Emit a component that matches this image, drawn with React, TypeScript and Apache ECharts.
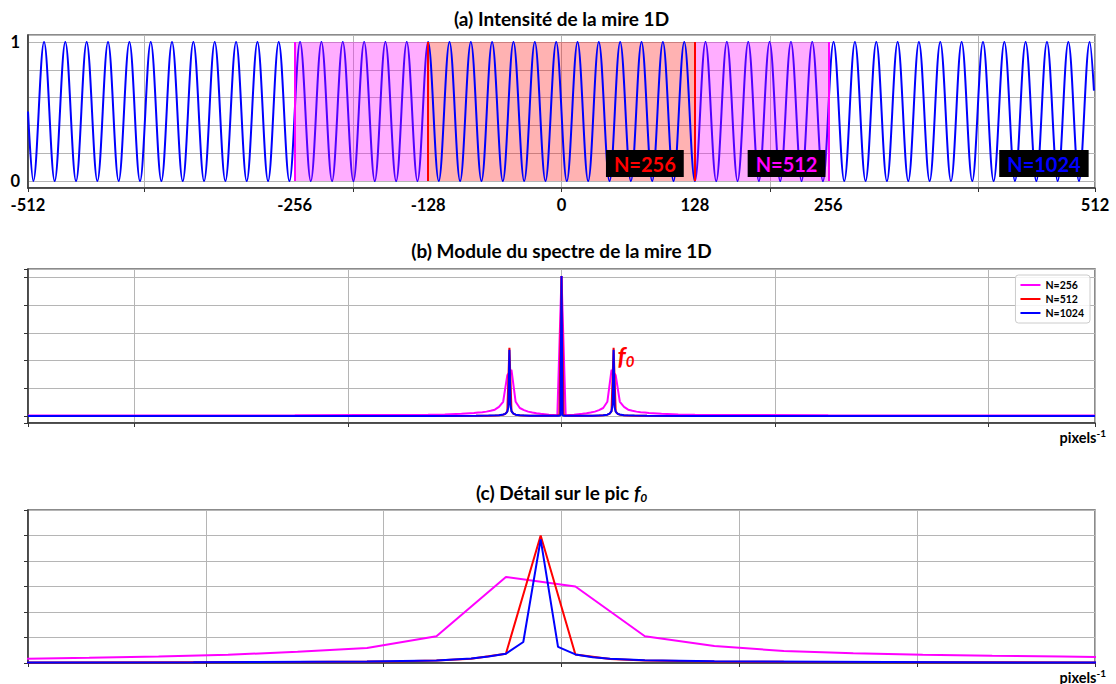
import React, { useEffect, useRef } from "react";
import * as echarts from "echarts";

// ---------- Panel (a): 1-D test pattern (pixel positions of maxima / minima) ----------
const waveStart: [number, number] = [-512, 0.5];
const waveEnd: [number, number] = [511, 0.65];
const waveTroughs = [
  -506.9, -486.4, -465.9, -445.4, -425.0, -404.5, -384.0, -363.5, -343.0, -322.6,
  -302.1, -281.6, -261.1, -240.6, -220.2, -199.7, -179.2, -158.7, -138.2, -117.8,
  -97.3, -76.8, -56.3, -35.8, -15.4, 5.1, 25.6, 46.1, 66.6, 87.0,
  107.5, 128.0, 148.5, 169.0, 189.4, 209.9, 230.4, 250.9, 271.4, 291.8,
  312.3, 332.8, 353.3, 373.8, 394.2, 414.7, 435.2, 455.7, 476.2, 496.6,
];
const wavePeaks = [
  -496.6, -476.2, -455.7, -435.2, -414.7, -394.2, -373.8, -353.3, -332.8, -312.3,
  -291.8, -271.4, -250.9, -230.4, -209.9, -189.4, -169.0, -148.5, -128.0, -107.5,
  -87.0, -66.6, -46.1, -25.6, -5.1, 15.4, 35.8, 56.3, 76.8, 97.3,
  117.8, 138.2, 158.7, 179.2, 199.7, 220.2, 240.6, 261.1, 281.6, 302.1,
  322.6, 343.0, 363.5, 384.0, 404.5, 425.0, 445.4, 465.9, 486.4, 506.9,
];
const xLabelsA = [-512, -256, -128, 0, 128, 256, 512];
const yLabelsA = [0, 1];
const windowN512 = [-256, 256];
const windowN256 = [-128, 128];
const annotTexts = ["N=256", "N=512", "N=1024"];
const annotX = [80, 216, 463];
const annotY = 0.126;

// ---------- Panels (b) and (c): spectrum modulus (positive frequencies, bins k/N) ----------
const bins256 = [0, 1, 2, 3, 4, 5, 6, 7, 8, 9, 10, 11, 12, 13, 14, 15, 16, 17, 18, 19, 20, 21, 24, 28, 32, 48, 64, 96, 128];
const spec256 = [
  1.01, 0.006, 0.008, 0.01, 0.013, 0.016, 0.02, 0.025, 0.032, 0.043, 0.058, 0.103, 0.332, 0.295,
  0.103, 0.066, 0.046, 0.038, 0.032, 0.028, 0.025, 0.022, 0.017, 0.012, 0.01, 0.007, 0.005, 0.004, 0.004,
];
const bins512 = [0, 1, 2, 5, 10, 15, 18, 20, 21, 22, 23, 24, 25, 26, 27, 28, 29, 30, 32, 36, 41, 64, 128, 256];
const spec512 = [
  1.01, 0.008, 0.004, 0.002, 0.002, 0.003, 0.004, 0.0055, 0.007, 0.01, 0.016, 0.036, 0.492, 0.033,
  0.015, 0.01, 0.0075, 0.006, 0.0045, 0.003, 0.002, 0.001, 0.001, 0.001,
];
const bins1024 = [0, 1, 2, 5, 20, 30, 40, 44, 46, 47, 48, 49, 50, 51, 52, 53, 54, 56, 60, 70, 82, 128, 256, 512];
const spec1024 = [
  1.01, 0.006, 0.003, 0.0015, 0.0015, 0.0025, 0.006, 0.01, 0.017, 0.025, 0.036, 0.081, 0.477, 0.062,
  0.033, 0.022, 0.016, 0.011, 0.0065, 0.0035, 0.0015, 0.001, 0.001, 0.001,
];
const f0Label = { x: 0.0605, y: 0.44 };
const detailRange = [0.02, 0.08];
const detailYMax = 0.59;

const FONT = 'Lato, "DejaVu Sans", sans-serif';

function buildWave(): [number, number][] {
  const pts: [number, number][] = [waveStart];
  for (let i = 0; i < waveTroughs.length; i++) {
    pts.push([waveTroughs[i], 0]);
    pts.push([wavePeaks[i], 1]);
  }
  pts.push(waveEnd);
  return pts;
}

function buildSpectrum(bins: number[], vals: number[], n: number): [number, number][] {
  const pos: [number, number][] = bins.map((k, i) => [k / n, vals[i]]);
  const neg: [number, number][] = pos
    .filter((p) => p[0] > 0)
    .map((p) => [-p[0], p[1]] as [number, number])
    .reverse();
  return [...neg, ...pos];
}

export default function App() {
  const ref = useRef<HTMLDivElement>(null);
  useEffect(() => {
    if (!ref.current) return;
    const chart = echarts.init(ref.current, undefined, { renderer: "svg" });
    const gridCommon = {
      left: 28,
      width: 1067,
      show: true,
      borderColor: "#666",
      borderWidth: 1.5,
      backgroundColor: "transparent",
    };
    const split = { show: true, lineStyle: { color: "#b5b5b5", width: 1 } };
    const axisLine = { show: true, onZero: false, lineStyle: { color: "#333", width: 1.5 } };
    const tick = { show: true, length: 4, lineStyle: { color: "#333", width: 1 } };
    const specs = [
      { name: "N=256", data: buildSpectrum(bins256, spec256, 256), color: "#ff00ff" },
      { name: "N=512", data: buildSpectrum(bins512, spec512, 512), color: "#ff0000" },
      { name: "N=1024", data: buildSpectrum(bins1024, spec1024, 1024), color: "#0000ff" },
    ];
    const specSeries = (axis: number) =>
      specs.map((s) => ({
        type: "line",
        name: s.name,
        xAxisIndex: axis,
        yAxisIndex: axis,
        data: s.data,
        showSymbol: false,
        symbol: "none",
        lineStyle: { color: s.color, width: 2 },
        itemStyle: { color: s.color },
        z: 2,
      }));
    const annotColors = ["#ff0000", "#ff00ff", "#0000ff"];
    const tickFont = { fontFamily: FONT, fontWeight: "bold", fontSize: 16.5, color: "#000", margin: 8 };

    const option: any = {
      animation: false,
      backgroundColor: "#fff",
      textStyle: { fontFamily: FONT },
      grid: [
        { ...gridCommon, top: 35, height: 153 },
        { ...gridCommon, top: 269, height: 154 },
        { ...gridCommon, top: 510, height: 153 },
      ],
      xAxis: [
        {
          gridIndex: 0,
          type: "value",
          min: -512,
          max: 512,
          axisLine,
          axisTick: tick,
          splitLine: split,
          axisLabel: { customValues: xLabelsA, ...tickFont },
        },
        {
          gridIndex: 1,
          type: "value",
          min: -0.5,
          max: 0.5,
          axisLine,
          axisTick: tick,
          splitLine: split,
          axisLabel: { show: false },
        },
        {
          gridIndex: 2,
          type: "value",
          min: detailRange[0],
          max: detailRange[1],
          interval: 0.01,
          axisLine,
          axisTick: tick,
          splitLine: split,
          axisLabel: { show: false },
        },
      ],
      yAxis: [
        {
          gridIndex: 0,
          type: "value",
          min: -0.05,
          max: 1.05,
          axisLine,
          axisTick: { show: false },
          splitLine: split,
          axisLabel: { customValues: yLabelsA, ...tickFont },
        },
        {
          gridIndex: 1,
          type: "value",
          min: -0.05,
          max: 1.06,
          axisLine,
          axisTick: tick,
          splitLine: split,
          axisLabel: { show: false },
        },
        {
          gridIndex: 2,
          type: "value",
          min: 0,
          max: detailYMax,
          interval: detailYMax / 6,
          axisLine,
          axisTick: tick,
          splitLine: split,
          axisLabel: { show: false },
        },
      ],
      legend: {
        data: annotTexts,
        selectedMode: false,
        orient: "vertical",
        right: 26,
        top: 275,
        icon: "rect",
        itemWidth: 20,
        itemHeight: 2,
        itemGap: 2,
        padding: [4, 6, 4, 5],
        backgroundColor: "rgba(255,255,255,0.85)",
        borderColor: "#ccc",
        borderWidth: 1,
        borderRadius: 3,
        textStyle: { fontFamily: FONT, fontWeight: "bold", fontSize: 10.5, color: "#000", lineHeight: 12 },
      },
      series: [
        {
          type: "line",
          name: "mire",
          xAxisIndex: 0,
          yAxisIndex: 0,
          data: buildWave(),
          smooth: 0.36,
          showSymbol: false,
          symbol: "none",
          lineStyle: { color: "#0000ff", width: 2 },
          z: 2,
        },
        {
          type: "line",
          name: "fenetre256",
          xAxisIndex: 0,
          yAxisIndex: 0,
          data: windowN256.map((x) => [x, 0]),
          symbol: "none",
          lineStyle: { opacity: 0, width: 0 },
          markArea: {
            silent: true,
            z: 1,
            itemStyle: { color: "rgba(255,0,0,0.3)" },
            data: [[{ coord: [windowN256[0], 0] }, { coord: [windowN256[1], 1] }]],
          },
          markLine: {
            silent: true,
            symbol: "none",
            z: 5,
            label: { show: false },
            lineStyle: { color: "#ff0000", width: 2, type: "solid" },
            data: windowN256.map((x) => [{ coord: [x, 0] }, { coord: [x, 1] }]),
          },
        },
        {
          type: "line",
          name: "fenetre512",
          xAxisIndex: 0,
          yAxisIndex: 0,
          data: windowN512.map((x) => [x, 0]),
          symbol: "none",
          lineStyle: { opacity: 0, width: 0 },
          markArea: {
            silent: true,
            z: 3,
            itemStyle: { color: "rgba(255,0,255,0.32)" },
            data: [
              [{ coord: [windowN512[0], 0] }, { coord: [windowN256[0], 1] }],
              [{ coord: [windowN256[1], 0] }, { coord: [windowN512[1], 1] }],
            ],
          },
          markLine: {
            silent: true,
            symbol: "none",
            z: 5,
            label: { show: false },
            lineStyle: { color: "#ff00ff", width: 2, type: "solid" },
            data: windowN512.map((x) => [{ coord: [x, 0] }, { coord: [x, 1] }]),
          },
        },
        {
          type: "scatter",
          name: "annot",
          xAxisIndex: 0,
          yAxisIndex: 0,
          symbolSize: 0,
          z: 6,
          itemStyle: { opacity: 1 },
          data: annotTexts.map((t, i) => ({
            name: t,
            value: [annotX[i], annotY],
            label: { color: annotColors[i] },
          })),
          label: {
            show: true,
            position: "inside",
            formatter: (p: any) => p.name,
            fontFamily: FONT,
            fontWeight: "bold",
            fontSize: 20,
            backgroundColor: "#000",
            padding: [4, 8, 3, 8],
          },
        },
        ...specSeries(1),
        ...specSeries(2),
        {
          type: "scatter",
          name: "f0",
          xAxisIndex: 1,
          yAxisIndex: 1,
          symbolSize: 0,
          z: 6,
          itemStyle: { opacity: 1 },
          data: [[f0Label.x, f0Label.y]],
          label: {
            show: true,
            position: "inside",
            formatter: "{f|f}{s|0}",
            rich: {
              f: { fontFamily: FONT, fontStyle: "italic", fontWeight: "bold", fontSize: 25, color: "#ff0000" },
              s: {
                fontFamily: FONT,
                fontStyle: "italic",
                fontWeight: "bold",
                fontSize: 15,
                color: "#ff0000",
                padding: [12, 0, 0, 0],
              },
            },
          },
        },
      ],
      graphic: [
        {
          type: "text",
          x: 561.5,
          y: 18,
          style: {
            text: "(a) Intensité de la mire 1D",
            font: `bold 19px ${FONT}`,
            fill: "#000",
            textAlign: "center",
            textVerticalAlign: "middle",
          },
        },
        {
          type: "text",
          x: 561.5,
          y: 250,
          style: {
            text: "(b) Module du spectre de la mire 1D",
            font: `bold 19px ${FONT}`,
            fill: "#000",
            textAlign: "center",
            textVerticalAlign: "middle",
          },
        },
        {
          type: "text",
          x: 561.5,
          y: 492,
          style: {
            text: "{n|(c) Détail sur le pic }{f|f}{s|0}",
            textAlign: "center",
            textVerticalAlign: "middle",
            rich: {
              n: { fontFamily: FONT, fontWeight: "bold", fontSize: 19, color: "#000" },
              f: { fontFamily: FONT, fontWeight: "bold", fontStyle: "italic", fontSize: 19, color: "#000" },
              s: { fontFamily: FONT, fontWeight: "bold", fontStyle: "italic", fontSize: 12, color: "#000", padding: [10, 0, 0, 0] },
            },
          },
        },
        ...[437, 677].map((y) => ({
          type: "text",
          x: 1106,
          y,
          style: {
            text: "{p|pixels}{e|-1}",
            textAlign: "right",
            textVerticalAlign: "middle",
            rich: {
              p: { fontFamily: FONT, fontWeight: "bold", fontSize: 14.5, color: "#000" },
              e: { fontFamily: FONT, fontWeight: "bold", fontSize: 10, color: "#000", padding: [0, 0, 8, 0] },
            },
          },
        })),
      ],
    };
    chart.setOption(option);
    return () => chart.dispose();
  }, []);
  return (
    <div
      ref={ref}
      style={{ position: "fixed", left: 0, top: 0, width: 1116, height: 684, background: "#fff" }}
    />
  );
}
